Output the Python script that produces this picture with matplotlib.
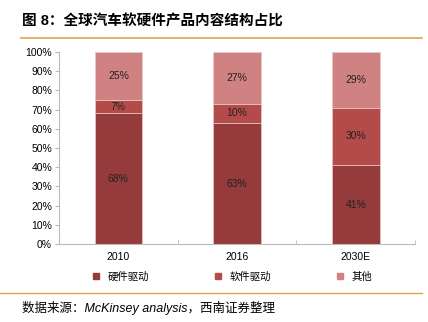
import numpy as np
import matplotlib
matplotlib.use("Agg")
import matplotlib.pyplot as plt
from matplotlib.lines import Line2D

plt.rcParams['font.family'] = ['Liberation Sans', 'Noto Sans CJK SC', 'DejaVu Sans']

years = ['2010', '2016', '2030E']
hardware = [68, 63, 41]
software = [7, 10, 30]
other = [25, 27, 29]
series_names = ['硬件驱动', '软件驱动', '其他']
colors = ['#953B3B', '#B54B49', '#D08282']

fig = plt.figure(figsize=(4.28, 3.22), dpi=100)
ax = fig.add_axes([0.138, 0.242, 0.832, 0.597])

x = np.arange(len(years))
width = 0.4
bottom = np.zeros(len(years))
for vals, c in zip([hardware, software, other], colors):
    vals = np.array(vals)
    ax.bar(x, vals, width, bottom=bottom, color=c, edgecolor='#E8C8C8', linewidth=0.5)
    for xi, b, v in zip(x, bottom, vals):
        ax.text(xi, b + v / 2, f'{v}%', ha='center', va='center', fontsize=7.5, color='#222222')
    bottom += vals

ax.set_xlim(-0.5, 2.5)
ax.set_ylim(0, 100)
ax.set_yticks(np.arange(0, 101, 10))
ax.set_yticklabels([f'{v}%' for v in range(0, 101, 10)], fontsize=7.5)
ax.set_xticks(x)
ax.set_xticklabels(years, fontsize=7.5)
ax.tick_params(axis='x', length=0, pad=6)
ax.set_xticks([0.5, 1.5, 2.5], minor=True)
ax.tick_params(axis='x', which='minor', length=3, color='#BBBBBB', direction='in')
ax.tick_params(axis='y', length=3, color='#BBBBBB', pad=2)
for s in ['top', 'right']:
    ax.spines[s].set_visible(False)
ax.spines['left'].set_color('#BBBBBB')
ax.spines['bottom'].set_color('#BBBBBB')

handles = [Line2D([], [], marker='s', linestyle='', color=c, markersize=5) for c in colors]
fig.legend(handles, series_names, loc='center', bbox_to_anchor=(0.535, 0.14), ncol=3,
           frameon=False, fontsize=7.5, handletextpad=0.1, columnspacing=5.6)

fig.text(0.052, 0.935, '图 8：全球汽车软硬件产品内容结构占比', fontsize=10.5, fontweight='bold',
         va='center', ha='left')
fig.add_artist(Line2D([0.05, 0.985], [0.882, 0.882], color='#E3A448', linewidth=1.2))
fig.add_artist(Line2D([0.0, 0.985], [0.09, 0.09], color='#E3A448', linewidth=1.0))
fig.text(0.052, 0.043, '数据来源：McKinsey analysis，西南证券整理', fontsize=9, style='italic',
         va='center', ha='left')

fig.savefig('out.png', dpi=100)
